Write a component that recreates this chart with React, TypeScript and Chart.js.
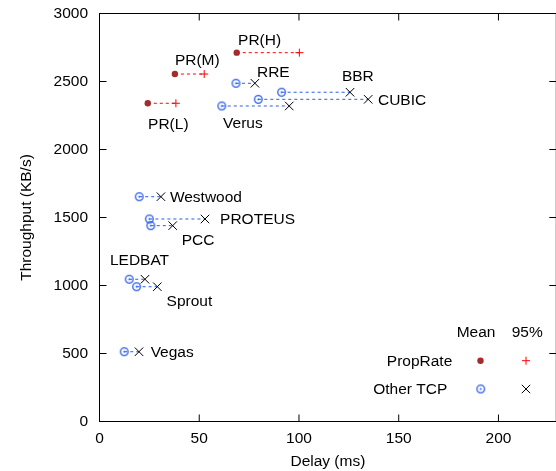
import React, { useEffect, useRef } from "react";
import { Chart, registerables } from "chart.js";

Chart.register(...registerables);

// ---- Data ----
const propRateNames = ["PR(H)", "PR(M)", "PR(L)"];
const propRateMeanDelay = [68.8, 37.8, 24.2];
const propRate95Delay = [100.2, 52.5, 38.3];
const propRateThroughput = [2712, 2555, 2340];

const otherNames = ["RRE", "BBR", "CUBIC", "Verus", "Westwood", "PROTEUS", "PCC", "LEDBAT", "Sprout", "Vegas"];
const otherMeanDelay = [68.4, 91.3, 79.6, 61.3, 19.9, 25.0, 25.7, 14.9, 18.6, 12.4];
const other95Delay = [77.9, 125.6, 134.7, 95.1, 30.8, 52.9, 36.7, 22.8, 29.0, 19.8];
const otherThroughput = [2487, 2421, 2369, 2320, 1653, 1489, 1440, 1046, 991, 513];

const xTickStep = 50;
const yTickStep = 500;
const xMax = 229;
const yMax = 3000;

const legendHeader = ["Mean", "95%"];
const legendRows = ["PropRate", "Other TCP"];

// ---- Styles (label offsets in px relative to the mean marker) ----
const propRateLabelOffsets = [
  [1.3, -7.7],
  [0, -9],
  [0.3, 25.7],
];
const otherLabelOffsets = [
  [21, -6.6],
  [60.3, -11.6],
  [119.7, 5.7],
  [1.3, 22],
  [30.7, 5],
  [70.7, 5.3],
  [31, 19.3],
  [-19.3, -14.3],
  [30, 18.8],
  [26.4, 5],
];

const FONT_FAMILY = "'Liberation Sans', Arial, Helvetica, sans-serif";
const FONT_SIZE = 15.5;
const BROWN = "#a52a2a";
const RED = "#ff0000";
const BLUE = "#2a5ce8";
const CANVAS_W = 560;
const CANVAS_H = 471;

function makeCircleDot(): HTMLCanvasElement {
  const c = document.createElement("canvas");
  c.width = 11;
  c.height = 11;
  const g = c.getContext("2d")!;
  g.strokeStyle = BLUE;
  g.lineWidth = 1.3;
  g.beginPath();
  g.arc(5.5, 5.5, 3.8, 0, Math.PI * 2);
  g.stroke();
  g.fillStyle = BLUE;
  g.beginPath();
  g.arc(5.5, 5.5, 0.95, 0, Math.PI * 2);
  g.fill();
  return c;
}

function zeroPadding(s: any) {
  s.paddingTop = 0;
  s.paddingBottom = 0;
  s.paddingLeft = 0;
  s.paddingRight = 0;
}

export default function App() {
  const ref = useRef<HTMLCanvasElement | null>(null);

  useEffect(() => {
    const canvas = ref.current;
    if (!canvas) return;
    const circleDot = makeCircleDot();
    const font = { family: FONT_FAMILY, size: FONT_SIZE };

    const datasets: any[] = [];
    datasets.push({
      label: "PropRate mean",
      data: propRateMeanDelay.map((x, i) => ({ x, y: propRateThroughput[i] })),
      pointStyle: "circle",
      pointRadius: 3.2,
      backgroundColor: BROWN,
      borderColor: BROWN,
      borderWidth: 0,
    });
    datasets.push({
      label: "PropRate 95%",
      data: propRate95Delay.map((x, i) => ({ x, y: propRateThroughput[i] })),
      pointStyle: "cross",
      pointRadius: 4,
      borderColor: RED,
      borderWidth: 1,
    });
    datasets.push({
      label: "Other mean",
      data: otherMeanDelay.map((x, i) => ({ x, y: otherThroughput[i] })),
      pointStyle: circleDot,
      pointRadius: 4,
    });
    datasets.push({
      label: "Other 95%",
      data: other95Delay.map((x, i) => ({ x, y: otherThroughput[i] })),
      pointStyle: "crossRot",
      pointRadius: 6,
      borderColor: "#000",
      borderWidth: 1,
    });
    propRateNames.forEach((name, i) => {
      datasets.push({
        label: name + " range",
        data: [
          { x: propRateMeanDelay[i], y: propRateThroughput[i] },
          { x: propRate95Delay[i], y: propRateThroughput[i] },
        ],
        showLine: true,
        pointRadius: 0,
        borderColor: RED,
        borderWidth: 1,
        borderDash: [3, 3],
      });
    });
    otherNames.forEach((name, i) => {
      datasets.push({
        label: name + " range",
        data: [
          { x: otherMeanDelay[i], y: otherThroughput[i] },
          { x: other95Delay[i], y: otherThroughput[i] },
        ],
        showLine: true,
        pointRadius: 0,
        borderColor: BLUE,
        borderWidth: 1,
        borderDash: [3, 3],
      });
    });

    const framePlugin = {
      id: "frame",
      afterDraw(chart: any) {
        const ctx = chart.ctx as CanvasRenderingContext2D;
        const { left, right, top, bottom } = chart.chartArea;
        const xs = chart.scales.x;
        const ys = chart.scales.y;
        ctx.save();
        ctx.strokeStyle = "#000";
        ctx.lineWidth = 1;
        ctx.setLineDash([]);
        ctx.strokeRect(left, top, right - left, bottom - top);
        const tl = 7;
        ctx.beginPath();
        ys.ticks.forEach((t: any) => {
          const py = ys.getPixelForValue(t.value);
          if (t.value === 0 || t.value === yMax) return;
          ctx.moveTo(left, py);
          ctx.lineTo(left + tl, py);
          ctx.moveTo(right, py);
          ctx.lineTo(right - tl, py);
        });
        xs.ticks.forEach((t: any) => {
          const px = xs.getPixelForValue(t.value);
          if (t.value === 0) return;
          ctx.moveTo(px, bottom);
          ctx.lineTo(px, bottom - tl);
          ctx.moveTo(px, top);
          ctx.lineTo(px, top + tl);
        });
        ctx.stroke();

        // Point labels
        ctx.fillStyle = "#000";
        ctx.font = `${FONT_SIZE}px ${FONT_FAMILY}`;
        ctx.textBaseline = "alphabetic";
        ctx.textAlign = "left";
        propRateNames.forEach((name, i) => {
          const px = xs.getPixelForValue(propRateMeanDelay[i]);
          const py = ys.getPixelForValue(propRateThroughput[i]);
          const [dx, dy] = propRateLabelOffsets[i];
          ctx.fillText(name, px + dx, py + dy);
        });
        otherNames.forEach((name, i) => {
          const px = xs.getPixelForValue(otherMeanDelay[i]);
          const py = ys.getPixelForValue(otherThroughput[i]);
          const [dx, dy] = otherLabelOffsets[i];
          ctx.fillText(name, px + dx, py + dy);
        });

        // Legend
        ctx.fillText(legendHeader[0], 456.7, 336.7);
        ctx.fillText(legendHeader[1], 511.7, 336.7);
        ctx.textAlign = "right";
        ctx.fillText(legendRows[0], 452.3, 365.5);
        ctx.fillText(legendRows[1], 447.3, 394);
        // legend markers
        ctx.fillStyle = BROWN;
        ctx.beginPath();
        ctx.arc(480.5, 360.7, 3.2, 0, Math.PI * 2);
        ctx.fill();
        ctx.strokeStyle = RED;
        ctx.beginPath();
        ctx.moveTo(522, 360.7);
        ctx.lineTo(530, 360.7);
        ctx.moveTo(526, 356.7);
        ctx.lineTo(526, 364.7);
        ctx.stroke();
        ctx.drawImage(circleDot, 480.7 - 5.5, 389 - 5.5);
        ctx.strokeStyle = "#000";
        ctx.beginPath();
        ctx.moveTo(521.8, 384.8);
        ctx.lineTo(530.2, 393.2);
        ctx.moveTo(530.2, 384.8);
        ctx.lineTo(521.8, 393.2);
        ctx.stroke();
        ctx.restore();
      },
    };

    const chart = new Chart(canvas, {
      type: "scatter",
      data: { datasets },
      options: {
        animation: false,
        responsive: false,
        maintainAspectRatio: false,
        devicePixelRatio: 1,
        layout: { autoPadding: false, padding: { left: 0, top: 13.5, right: CANVAS_W - 556.3, bottom: 0 } },
        plugins: { legend: { display: false }, tooltip: { enabled: false } },
        scales: {
          x: {
            type: "linear",
            min: 0,
            max: xMax,
            afterFit: (s: any) => {
              s.height = 49.5;
              zeroPadding(s);
            },
            grid: { display: false, drawTicks: false },
            border: { display: false },
            ticks: {
              stepSize: xTickStep,
              includeBounds: false,
              padding: 7.7,
              color: "#000",
              font,
              maxRotation: 0,
              callback: (v: any) => String(v),
            },
            title: { display: true, text: "Delay (ms)", color: "#000", font, padding: { top: 0, bottom: 0 } },
          },
          y: {
            type: "linear",
            min: 0,
            max: yMax,
            afterFit: (s: any) => {
              s.width = 99.5;
              zeroPadding(s);
            },
            grid: { display: false, drawTicks: false },
            border: { display: false },
            ticks: { stepSize: yTickStep, padding: 11.5, color: "#000", font, callback: (v: any) => String(v) },
            title: { display: true, text: "Throughput (KB/s)", color: "#000", font, padding: { top: 17, bottom: 0 } },
          },
        },
      } as any,
      plugins: [framePlugin],
    });
    return () => chart.destroy();
  }, []);

  return (
    <div style={{ position: "fixed", left: 0, top: 0, width: 556, height: 471, overflow: "hidden", background: "#fff" }}>
      <canvas ref={ref} width={CANVAS_W} height={CANVAS_H} style={{ display: "block", width: CANVAS_W, height: CANVAS_H }} />
    </div>
  );
}
